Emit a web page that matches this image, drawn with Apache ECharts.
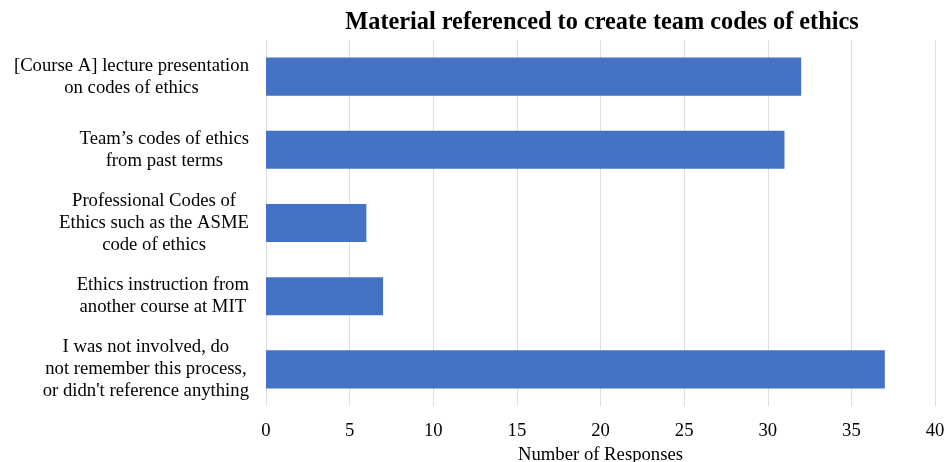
<!DOCTYPE html>
<html><head><meta charset="utf-8">
<script src="https://cdn.jsdelivr.net/npm/echarts@6/dist/echarts.min.js"></script>
<style>html,body{margin:0;padding:0;background:#fff}#c{width:945px;height:462px}</style>
</head><body><div id="c"></div>
<script>
const categories = [
  "[Course A] lecture presentation\non codes of ethics",
  "Team\u2019s codes of ethics\nfrom past terms",
  "Professional Codes of\nEthics such as the ASME\ncode of ethics",
  "Ethics instruction from\nanother course at MIT",
  "I was not involved, do\nnot remember this process,\nor didn't reference anything"
];
const values = [32, 31, 6, 7, 37];
const xTicks = { min: 0, max: 40, interval: 5 };

const font = 'Liberation Serif';
const labelSize = 18.7;

// Build rich-text so each label's lines are centred within its own block,
// while the block is right-aligned against the axis (as in the reference).
const ctx = document.createElement('canvas').getContext('2d');
ctx.font = labelSize + 'px "' + font + '"';
const rich = { t: { fontFamily: font, fontSize: labelSize, color: '#000', lineHeight: 22 } };
let padId = 0;
const formatted = {};
categories.forEach(function (c) {
  const lines = c.split('\n');
  const widths = lines.map(function (l) { return ctx.measureText(l).width; });
  const maxW = Math.max.apply(null, widths);
  formatted[c] = lines.map(function (l, i) {
    const pad = (maxW - widths[i]) / 2;
    if (pad < 0.5) return '{t|' + l + '}';
    const key = 'p' + (padId++);
    rich[key] = { width: pad, fontFamily: font, fontSize: labelSize, lineHeight: 22 };
    return '{t|' + l + '}{' + key + '| }';
  }).join('\n');
});

const chart = echarts.init(document.getElementById('c'), null, {renderer: 'canvas'});
chart.setOption({
  animation: false,
  title: {
    text: 'Material referenced to create team codes of ethics',
    left: 597, top: 6, textAlign: 'center',
    textStyle: { fontFamily: font, fontSize: 24.3, fontWeight: 'bold', color: '#000' }
  },
  grid: { left: 266, right: 10, top: 40, bottom: 56, containLabel: false, outerBoundsMode: 'none' },
  xAxis: {
    type: 'value', min: xTicks.min, max: xTicks.max, interval: xTicks.interval,
    name: 'Number of Responses', nameLocation: 'middle', nameGap: 37,
    nameTextStyle: { fontFamily: font, fontSize: labelSize, color: '#000' },
    axisLine: { show: false }, axisTick: { show: false },
    axisLabel: { fontFamily: font, fontSize: labelSize, color: '#000', margin: 16 },
    splitLine: { show: true, lineStyle: { color: '#dedede', width: 1 } }
  },
  yAxis: {
    type: 'category', data: categories, inverse: true,
    axisLine: { show: false }, axisTick: { show: false },
    axisLabel: {
      fontFamily: font, fontSize: labelSize, color: '#000', lineHeight: 22,
      align: 'right', margin: 17,
      formatter: function (v) { return formatted[v]; },
      rich: rich
    },
    splitLine: { show: false }
  },
  series: [{
    type: 'bar', data: values, barCategoryGap: '48%',
    itemStyle: { color: '#4472C4' }
  }]
});
</script></body></html>
